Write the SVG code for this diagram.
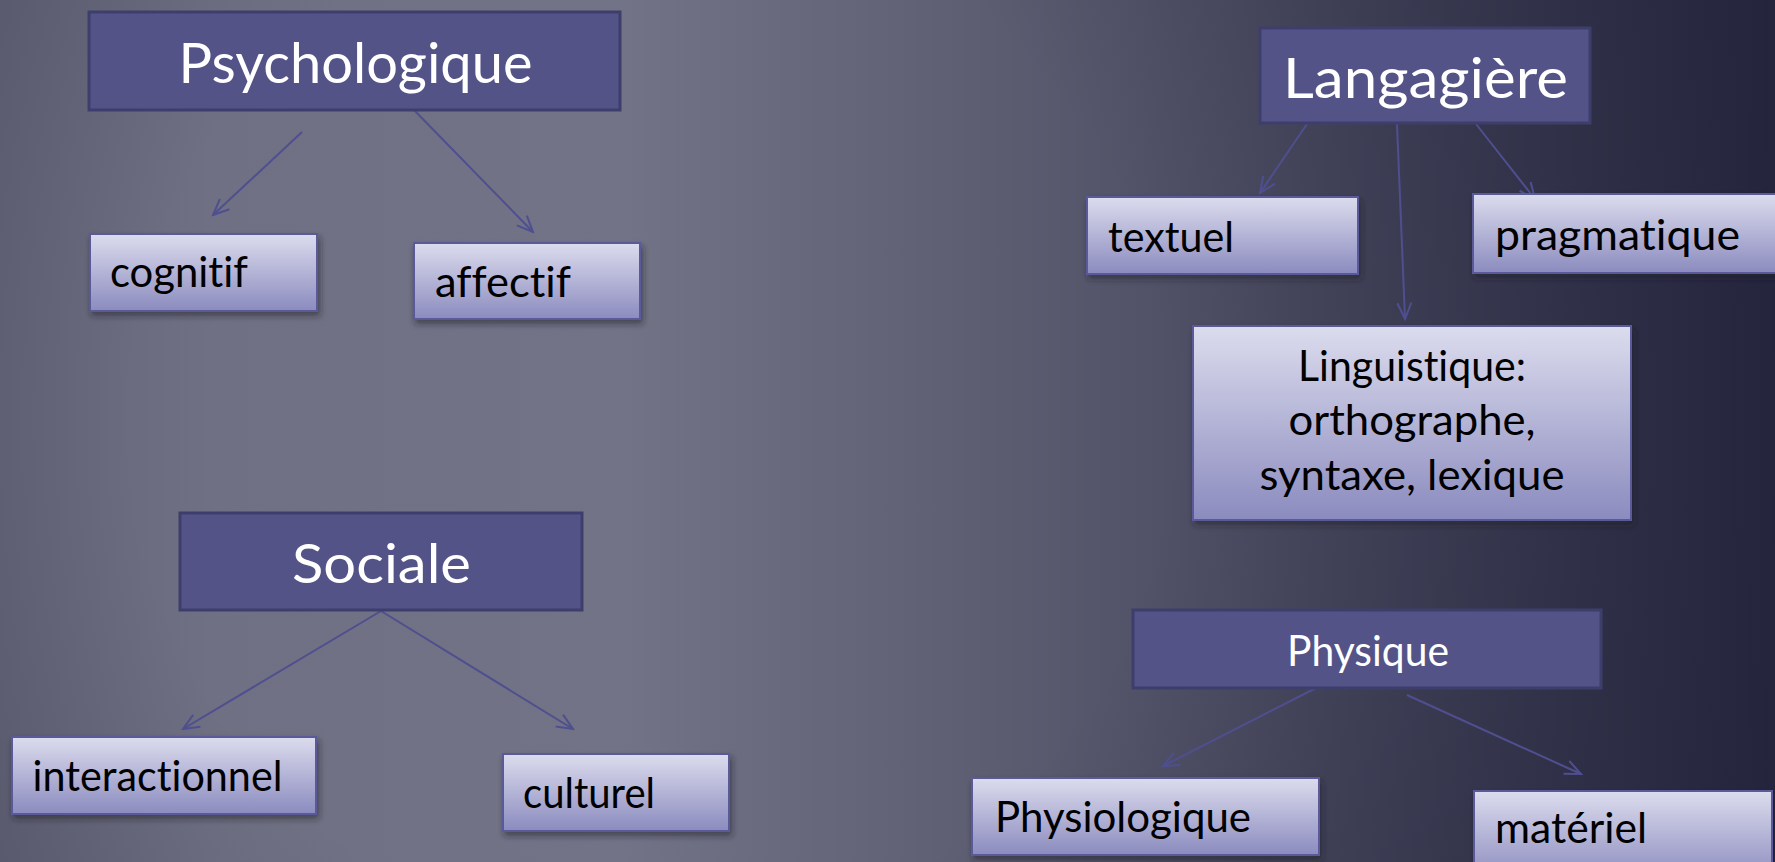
<svg xmlns="http://www.w3.org/2000/svg" width="1775" height="862" viewBox="0 0 1775 862">
  <defs>
    <linearGradient id="bg" x1="0" y1="0" x2="1775" y2="0" gradientUnits="userSpaceOnUse">
      <stop offset="0" stop-color="#646578"/>
      <stop offset="0.12" stop-color="#6f7083"/>
      <stop offset="0.35" stop-color="#727386"/>
      <stop offset="0.55" stop-color="#5d5e72"/>
      <stop offset="0.75" stop-color="#45465c"/>
      <stop offset="1" stop-color="#2a2a45"/>
    </linearGradient>
    <radialGradient id="vig" cx="650" cy="420" r="1150" gradientUnits="userSpaceOnUse">
      <stop offset="0.45" stop-color="#1a1a2e" stop-opacity="0"/>
      <stop offset="1" stop-color="#1a1a2e" stop-opacity="0.35"/>
    </radialGradient>
    <linearGradient id="light" x1="0" y1="0" x2="0" y2="1">
      <stop offset="0" stop-color="#dcdcee"/>
      <stop offset="1" stop-color="#8b8bbf"/>
    </linearGradient>
    <filter id="sh" x="-10%" y="-10%" width="130%" height="140%">
      <feDropShadow dx="2" dy="4" stdDeviation="3" flood-color="#1a1a2a" flood-opacity="0.55"/>
    </filter>
    <marker id="arr" viewBox="-18 -9 20 18" refX="0" refY="0" markerWidth="20" markerHeight="18" markerUnits="userSpaceOnUse" orient="auto">
      <path d="M-16,-7 L0,0 L-16,7" fill="none" stroke="#4f4f90" stroke-width="2"/>
    </marker>
    <style>
      .dark { fill: #535388; stroke: #3e3e6c; stroke-width: 3; }
      .light { fill: url(#light); stroke: #5a5a9a; stroke-width: 2; filter: url(#sh); }
      text { font-variant-ligatures: none; font-feature-settings: "liga" 0, "clig" 0; }
      .ht { font-family: Lato, "Open Sans", sans-serif; fill: #ffffff; text-anchor: middle; }
      .ct { font-family: Lato, "Open Sans", sans-serif; fill: #000000; font-size: 42px; }
      .conn line { stroke: #4f4f90; stroke-width: 2; marker-end: url(#arr); }
    </style>
  </defs>

  <rect x="0" y="0" width="1775" height="862" fill="url(#bg)"/>
  <rect x="0" y="0" width="1775" height="862" fill="url(#vig)"/>

  <g id="connectors" class="conn">
    <line x1="302" y1="132" x2="213" y2="215"/>
    <line x1="414" y1="110" x2="533" y2="232"/>
    <line x1="1307" y1="124" x2="1260" y2="193"/>
    <line x1="1397" y1="124" x2="1405" y2="319"/>
    <line x1="1476" y1="124" x2="1535" y2="199"/>
    <line x1="381" y1="611" x2="183" y2="729"/>
    <line x1="381" y1="611" x2="573" y2="729"/>
    <line x1="1316" y1="688" x2="1163" y2="766"/>
    <line x1="1407" y1="695" x2="1581" y2="774"/>
  </g>

  <g id="psychologique">
    <rect class="dark" x="89" y="12" width="531" height="98"/>
    <text class="ht" x="355.5" y="83" font-size="56" textLength="354" lengthAdjust="spacingAndGlyphs">Psychologique</text>
  </g>
  <g id="cognitif">
    <rect class="light" x="90" y="234" width="227" height="77"/>
    <text class="ct" x="110" y="287" textLength="138" lengthAdjust="spacingAndGlyphs">cognitif</text>
  </g>
  <g id="affectif">
    <rect class="light" x="414" y="243" width="226" height="76"/>
    <text class="ct" x="435" y="297" textLength="136" lengthAdjust="spacingAndGlyphs">affectif</text>
  </g>

  <g id="langagiere">
    <rect class="dark" x="1260" y="28" width="330" height="95"/>
    <text class="ht" x="1425.5" y="98" font-size="56" textLength="285" lengthAdjust="spacingAndGlyphs">Langagière</text>
  </g>
  <g id="textuel">
    <rect class="light" x="1087" y="197" width="271" height="77"/>
    <text class="ct" x="1108" y="252" textLength="126" lengthAdjust="spacingAndGlyphs">textuel</text>
  </g>
  <g id="pragmatique">
    <rect class="light" x="1473" y="194" width="320" height="79"/>
    <text class="ct" x="1495" y="250" textLength="245" lengthAdjust="spacingAndGlyphs">pragmatique</text>
  </g>
  <g id="linguistique">
    <rect class="light" x="1193" y="326" width="438" height="194"/>
    <text class="ct" x="1412" y="381" text-anchor="middle" textLength="228" lengthAdjust="spacingAndGlyphs">Linguistique:</text>
    <text class="ct" x="1412" y="435" text-anchor="middle" textLength="247" lengthAdjust="spacingAndGlyphs">orthographe,</text>
    <text class="ct" x="1412" y="490" text-anchor="middle" textLength="305" lengthAdjust="spacingAndGlyphs">syntaxe, lexique</text>
  </g>

  <g id="sociale">
    <rect class="dark" x="180" y="513" width="402" height="97"/>
    <text class="ht" x="381.5" y="583" font-size="54" textLength="179" lengthAdjust="spacingAndGlyphs">Sociale</text>
  </g>
  <g id="interactionnel">
    <rect class="light" x="12" y="737" width="304" height="77"/>
    <text class="ct" x="32.5" y="791" textLength="250" lengthAdjust="spacingAndGlyphs">interactionnel</text>
  </g>
  <g id="culturel">
    <rect class="light" x="503" y="754" width="226" height="77"/>
    <text class="ct" x="523" y="808" textLength="132" lengthAdjust="spacingAndGlyphs">culturel</text>
  </g>

  <g id="physique">
    <rect class="dark" x="1133" y="610" width="468" height="78"/>
    <text class="ht" x="1368" y="666" font-size="42" textLength="162" lengthAdjust="spacingAndGlyphs">Physique</text>
  </g>
  <g id="physiologique">
    <rect class="light" x="972" y="778" width="347" height="77"/>
    <text class="ct" x="995" y="832" textLength="256" lengthAdjust="spacingAndGlyphs">Physiologique</text>
  </g>
  <g id="materiel">
    <rect class="light" x="1474" y="791" width="298" height="90"/>
    <text class="ct" x="1495" y="843" textLength="152" lengthAdjust="spacingAndGlyphs">matériel</text>
  </g>
</svg>
